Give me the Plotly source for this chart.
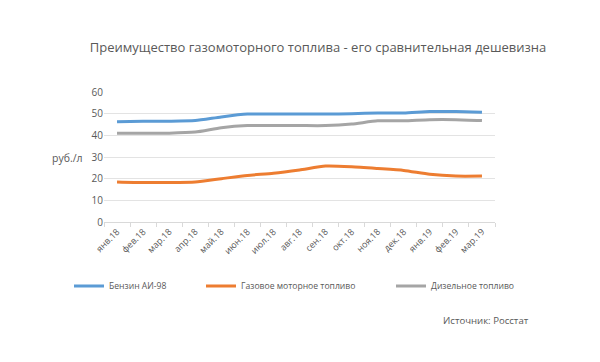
import plotly.graph_objects as go

months = ["янв.18", "фев.18", "мар.18", "апр.18", "май.18", "июн.18", "июл.18", "авг.18",
          "сен.18", "окт.18", "ноя.18", "дек.18", "янв.19", "фев.19", "мар.19"]
benzin = [46.3, 46.5, 46.5, 46.8, 48.5, 49.8, 49.8, 49.8, 49.8, 50.0, 50.3, 50.3, 51.0, 51.0, 50.7]
gas = [18.5, 18.2, 18.2, 18.5, 20.0, 21.5, 22.5, 24.0, 25.8, 25.5, 24.7, 23.8, 22.0, 21.2, 21.2]
diesel = [41.0, 41.0, 41.0, 41.5, 43.5, 44.5, 44.5, 44.5, 44.5, 45.2, 46.7, 46.7, 47.2, 47.2, 46.8]
yticks = [0, 10, 20, 30, 40, 50, 60]

FONT = "Open Sans"
TXT = "#595959"
OFF = 8  # page body margin
W, H = 600 - OFF, 362 - OFF

fig = go.Figure()
fig.add_trace(go.Scatter(x=months, y=benzin, name="Бензин АИ-98", mode="lines",
                         line=dict(color="#5B9BD5", width=3, shape="spline", smoothing=0.6),
                         legend="legend2"))
fig.add_trace(go.Scatter(x=months, y=gas, name="Газовое моторное топливо", mode="lines",
                         line=dict(color="#ED7D31", width=3, shape="spline", smoothing=0.6),
                         legend="legend3"))
fig.add_trace(go.Scatter(x=months, y=diesel, name="Дизельное топливо", mode="lines",
                         line=dict(color="#A5A5A5", width=3, shape="spline", smoothing=0.6),
                         legend="legend4"))

leg_common = dict(orientation="h", xref="container", yref="container", yanchor="middle", xanchor="left",
                  font=dict(family=FONT, size=8.6, color=TXT), bgcolor="rgba(0,0,0,0)",
                  itemwidth=30, tracegroupgap=0)
ly = 1 - (286 - OFF) / H

L, R, T, B = 104 - OFF, 495 - OFF, 92 - OFF, 222 - OFF
pw, ph = R - L, B - T

fig.update_layout(
    width=W, height=H,
    margin=dict(l=L, r=W - R, t=T, b=H - B, autoexpand=False),
    paper_bgcolor="white", plot_bgcolor="white",
    title=dict(text="Преимущество газомоторного топлива - его сравнительная дешевизна",
               x=(318 - OFF) / W, xanchor="center", y=1 - (47 - OFF) / H, yanchor="middle",
               xref="container", yref="container",
               font=dict(family=FONT, size=13, color=TXT)),
    xaxis=dict(type="category", range=[-0.5, 14.5], tickangle=-45,
               tickfont=dict(family=FONT, size=9, color=TXT),
               showgrid=False, showline=True, linecolor="#D9D9D9", linewidth=1,
               ticks="outside", tickson="boundaries", ticklen=4, tickcolor="#D9D9D9",
               zeroline=False),
    yaxis=dict(range=[0, 60], tickvals=yticks, showgrid=True, gridcolor="#E3E3E3", gridwidth=1,
               zeroline=False, showline=False, ticks="",
               tickfont=dict(family=FONT, size=10, color=TXT)),
    showlegend=True,
    legend=dict(visible=False),
    legend2=dict(**leg_common, x=(69 - OFF) / W, y=ly),
    legend3=dict(**leg_common, x=(201 - OFF) / W, y=ly),
    legend4=dict(**leg_common, x=(391 - OFF) / W, y=ly),
    annotations=[
        dict(text="руб./л", x=(67 - 104) / pw, y=(222 - 158) / ph, xref="paper", yref="paper",
             xanchor="center", yanchor="middle", showarrow=False,
             font=dict(family=FONT, size=10.5, color=TXT)),
        dict(text="Источник: Росстат", x=(441 - 104) / pw, y=-(320 - 222) / ph,
             xref="paper", yref="paper", xanchor="left", yanchor="middle", showarrow=False,
             font=dict(family=FONT, size=9.6, color=TXT)),
    ],
)

fig.write_html("out.html")
